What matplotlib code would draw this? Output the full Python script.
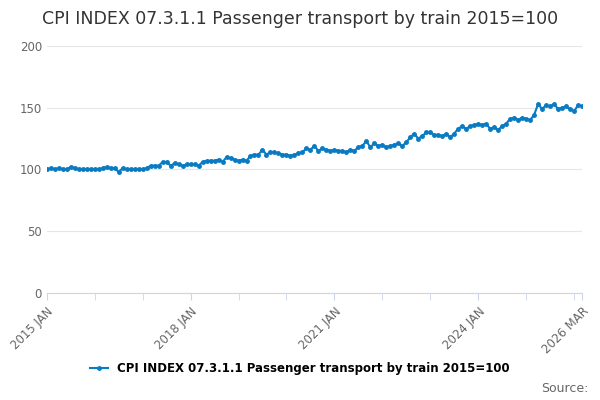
import numpy as np
from matplotlib import pyplot as plt

values = [
    100, 101, 100, 101, 100, 100, 102, 101, 100, 100, 100, 100,
    100, 100, 101, 102, 101, 101, 98, 101, 100, 100, 100, 100,
    100, 101, 103, 103, 103, 106, 106, 103, 105, 104, 103, 104,
    104, 104, 103, 106, 107, 107, 107, 108, 106, 110, 109, 108,
    107, 108, 107, 111, 112, 112, 116, 112, 114, 114, 113, 112,
    112, 111, 112, 113, 114, 117, 116, 119, 115, 117, 116, 115,
    116, 115, 115, 114, 116, 115, 118, 119, 123, 118, 121, 119,
    120, 118, 119, 120, 121, 119, 122, 126, 129, 125, 127, 130,
    130, 128, 128, 127, 129, 126, 129, 133, 135, 133, 135, 136,
    137, 136, 137, 133, 134, 132, 135, 137, 141, 142, 140, 142,
    141, 140, 144, 153, 149, 152, 151, 153, 149, 150, 151, 149,
    147, 152, 151,
]
tick_pos = [0, 36, 72, 108, 134]
tick_labels = ["2015 JAN", "2018 JAN", "2021 JAN", "2024 JAN", "2026 MAR"]
label = "CPI INDEX 07.3.1.1 Passenger transport by train 2015=100"
color = "#0a7bc2"

fig = plt.figure(figsize=(6, 4), dpi=100)
ax = fig.add_axes([0.078, 0.268, 0.892, 0.617])
x = np.arange(len(values))
ax.plot(x, values, color=color, marker="o", markersize=2.5, linewidth=1.5, label=label)
ax.set_xlim(0, len(values) - 1)
ax.set_ylim(0, 200)
ax.set_yticks([0, 50, 100, 150, 200])
ax.set_xticks(tick_pos)
ax.set_xticklabels(tick_labels, rotation=45, ha="right", rotation_mode="anchor")
ax.set_xticks(np.arange(0, len(values), 12), minor=True)
ax.tick_params(axis="both", labelsize=8.5, colors="#666666", length=0)
ax.tick_params(axis="x", which="both", length=5, color="#ccd6eb")
ax.grid(axis="y", color="#e6e6e6", linewidth=0.8)
ax.set_axisbelow(True)
for s in ["top", "right", "left"]:
    ax.spines[s].set_visible(False)
ax.spines["bottom"].set_color("#ccd6eb")
fig.suptitle(label, y=0.975, fontsize=12.5, color="#333333")
fig.legend(loc="lower center", bbox_to_anchor=(0.5, 0.035), frameon=False,
           prop={"weight": "bold", "size": 8.5}, handlelength=1.5)
fig.text(0.98, 0.02, "Source:", ha="right", fontsize=9, color="#666666")
fig.savefig("out.png")
